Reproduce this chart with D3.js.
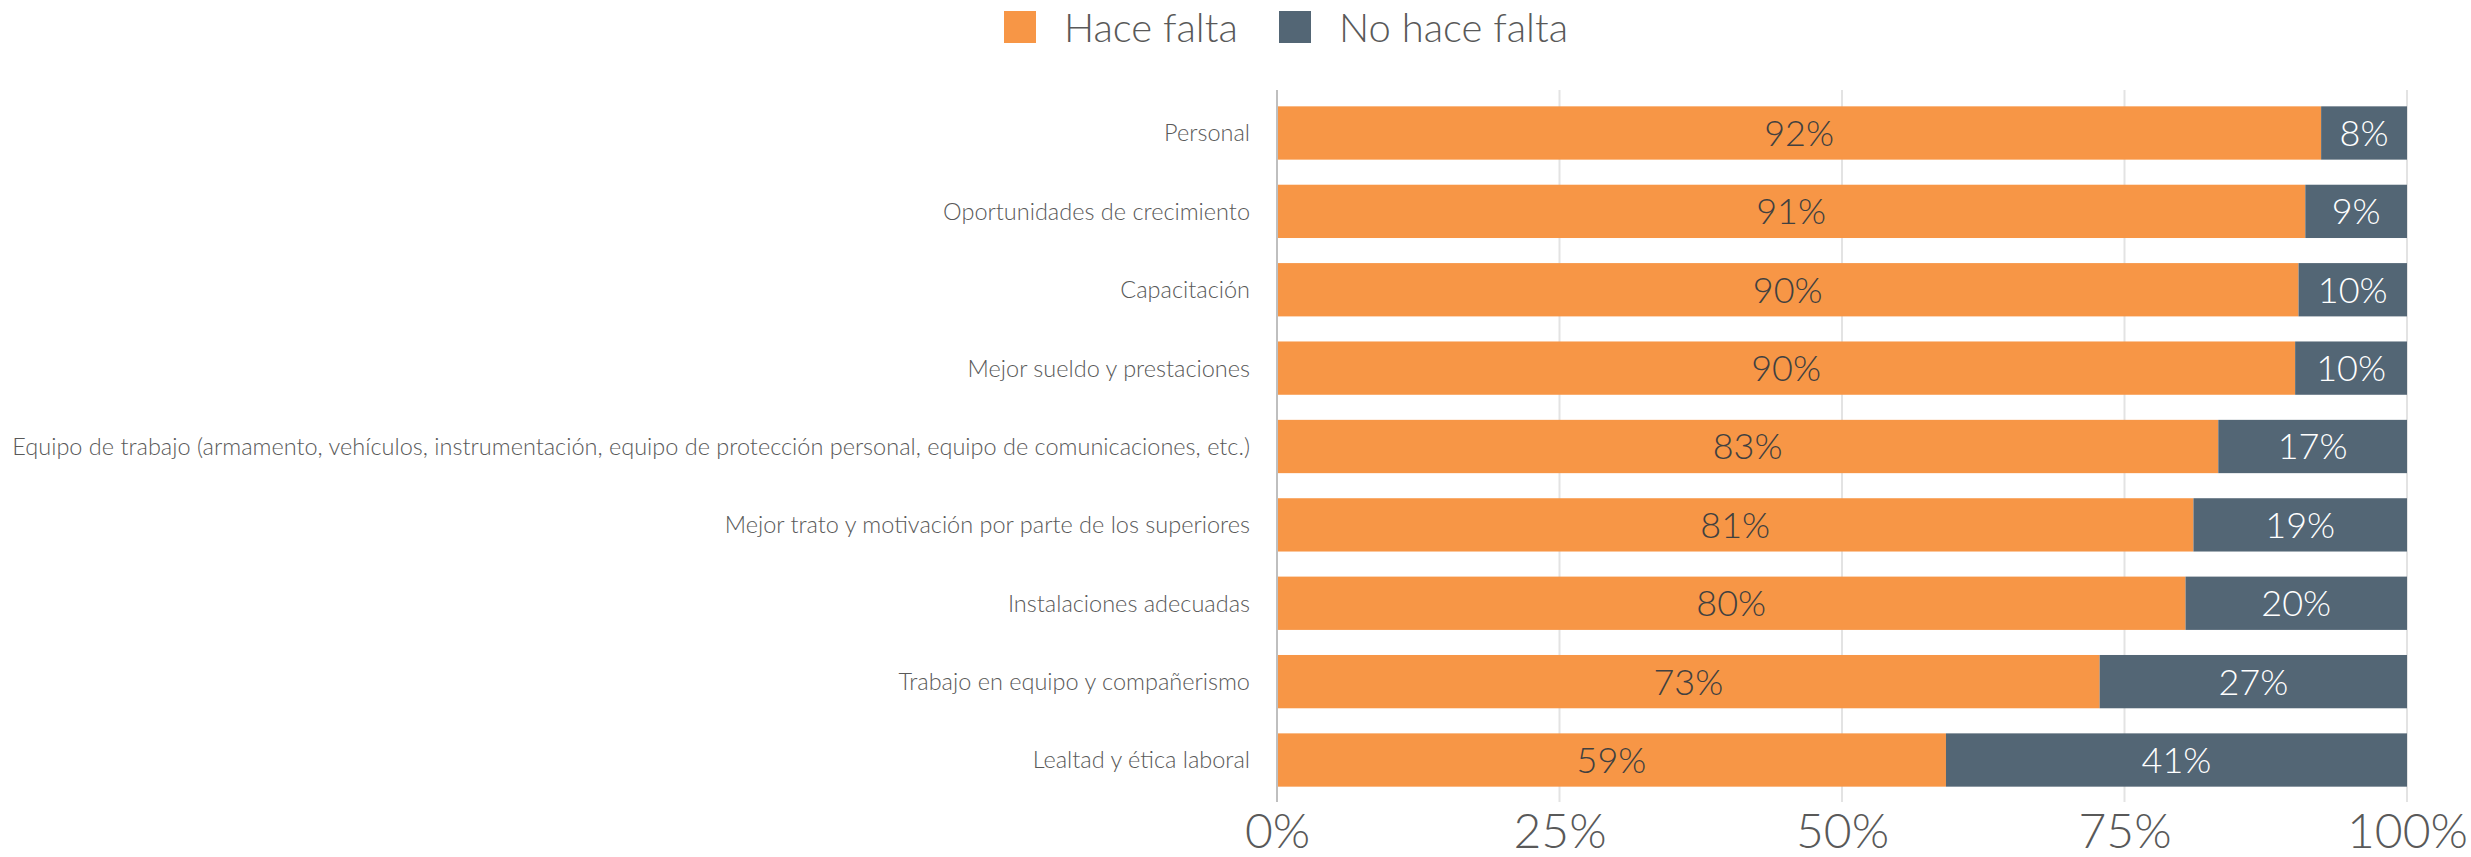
<!DOCTYPE html>
<html>
<head>
<meta charset="utf-8">
<script src="https://cdn.jsdelivr.net/npm/d3@7"></script>
<style>
  body { margin: 0; background: #fff; }
  text { font-family: Lato, "Open Sans", sans-serif; }
</style>
</head>
<body>
<div id="chart"></div>
<script>
// Data
const categories = [
  "Personal",
  "Oportunidades de crecimiento",
  "Capacitación",
  "Mejor sueldo y prestaciones",
  "Equipo de trabajo (armamento, vehículos, instrumentación, equipo de protección personal, equipo de comunicaciones, etc.)",
  "Mejor trato y motivación por parte de los superiores",
  "Instalaciones adecuadas",
  "Trabajo en equipo y compañerismo",
  "Lealtad y ética laboral"
];
const haceFalta = [92.4, 91.0, 90.4, 90.1, 83.3, 81.1, 80.4, 72.8, 59.2];
const noHaceFalta = [7.6, 9.0, 9.6, 9.9, 16.7, 18.9, 19.6, 27.2, 40.8];
const seriesNames = ["Hace falta", "No hace falta"];
const tickValues = [0, 25, 50, 75, 100];

const colors = ["#F79646", "#536675"];
const labelColors = ["#404040", "#ffffff"];

// Dimensions
const W = 2471, H = 857;
const margin = { left: 1277, right: 64 };
const plotTop = 90, plotBottom = 802;

const svg = d3.select("#chart")
  .append("svg")
    .attr("width", W)
    .attr("height", H);

// Scales
const x = d3.scaleLinear().domain([0, 100]).range([margin.left, W - margin.right]);
const y = d3.scaleBand()
  .domain(categories)
  .range([93.8, 799.2])
  .paddingInner(0.32)
  .paddingOuter(0.16);

// Gridlines
svg.append("g")
  .selectAll("line")
  .data(tickValues.slice(1))
  .join("line")
    .attr("x1", d => x(d))
    .attr("x2", d => x(d))
    .attr("y1", plotTop)
    .attr("y2", plotBottom)
    .attr("stroke", "#e3e3e3")
    .attr("stroke-width", 2);

// Stack
const rows = categories.map((c, i) => ({ cat: c, a: haceFalta[i], b: noHaceFalta[i] }));
const stacked = d3.stack().keys(["a", "b"])(rows);

const layers = svg.append("g")
  .selectAll("g")
  .data(stacked)
  .join("g")
    .attr("fill", (d, i) => colors[i]);

layers.selectAll("rect")
  .data(d => d)
  .join("rect")
    .attr("x", d => x(d[0]))
    .attr("width", d => x(d[1]) - x(d[0]))
    .attr("y", d => y(d.data.cat))
    .attr("height", y.bandwidth());

// Value labels
layers.each(function(layer, li) {
  d3.select(this).selectAll("text")
    .data(layer)
    .join("text")
      .attr("x", d => x((d[0] + d[1]) / 2))
      .attr("y", d => y(d.data.cat) + y.bandwidth() / 2)
      .attr("dy", "0.36em")
      .attr("text-anchor", "middle")
      .attr("fill", labelColors[li])
      .style("font-size", "36px")
      .style("font-weight", 300)
      .text(d => Math.round(d[1] - d[0]) + "%");
});

// Zero axis line
svg.append("line")
  .attr("x1", x(0))
  .attr("x2", x(0))
  .attr("y1", plotTop)
  .attr("y2", plotBottom)
  .attr("stroke", "#bfbfbf")
  .attr("stroke-width", 2);

// Category labels
svg.append("g")
  .selectAll("text")
  .data(categories)
  .join("text")
    .attr("x", x(0) - 27)
    .attr("y", d => y(d) + y.bandwidth() / 2)
    .attr("dy", "0.36em")
    .attr("text-anchor", "end")
    .attr("fill", "#595959")
    .style("font-size", "23.5px")
    .style("font-weight", 300)
    .text(d => d);

// X axis tick labels
const xAxis = svg.append("g")
  .attr("transform", `translate(0,${plotBottom})`)
  .call(d3.axisBottom(x).tickValues(tickValues).tickFormat(d => d + "%").tickSize(0).tickPadding(12));
xAxis.select(".domain").remove();
xAxis.selectAll("text")
  .attr("fill", "#595959")
  .style("font-family", "Lato, 'Open Sans', sans-serif")
  .style("font-size", "48px")
  .style("font-weight", 300);

// Legend
const legendItems = [
  { name: seriesNames[0], color: colors[0], x: 1004, tx: 1064 },
  { name: seriesNames[1], color: colors[1], x: 1279, tx: 1339 }
];
const legend = svg.append("g");
legend.selectAll("rect")
  .data(legendItems)
  .join("rect")
    .attr("x", d => d.x)
    .attr("y", 11)
    .attr("width", 32)
    .attr("height", 32)
    .attr("fill", d => d.color);
legend.selectAll("text")
  .data(legendItems)
  .join("text")
    .attr("x", d => d.tx)
    .attr("y", 42)
    .attr("fill", "#595959")
    .style("font-size", "40px")
    .style("font-weight", 300)
    .text(d => d.name);
</script>
</body>
</html>
